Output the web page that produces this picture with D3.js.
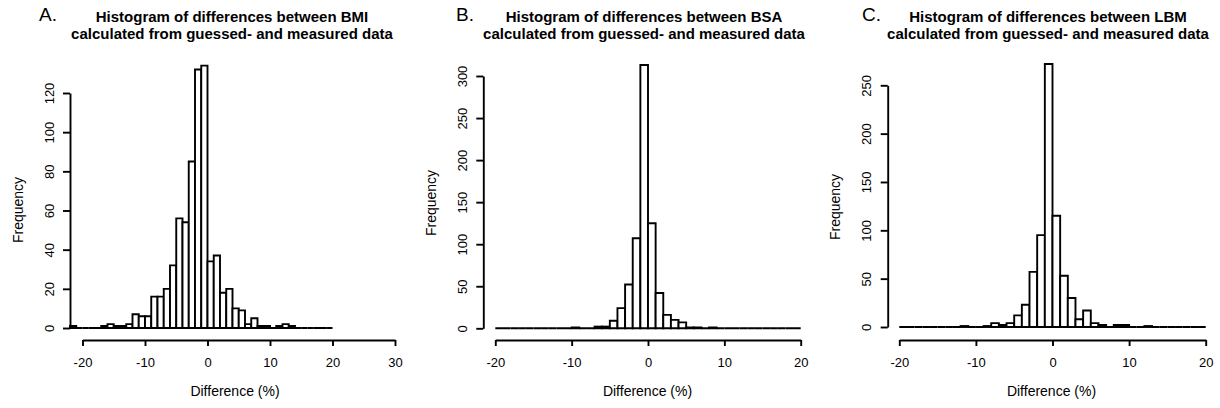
<!DOCTYPE html>
<html>
<head>
<meta charset="utf-8">
<script src="https://cdn.jsdelivr.net/npm/d3@7"></script>
<style>
  html, body { margin: 0; padding: 0; background: #fff; }
  svg { display: block; }
  text { font-family: "Liberation Sans", Arial, Helvetica, sans-serif; fill: #000; }
</style>
</head>
<body>
<svg id="chart" width="1220" height="408"></svg>
<script>
// ---- Data (bin width = 1 %) ----
const panelLetters = ["A.", "B.", "C."];
const titleLine1 = [
  "Histogram of differences between BMI",
  "Histogram of differences between BSA",
  "Histogram of differences between LBM"
];
const titleLine2 = "calculated from guessed- and measured data";
const xLabel = "Difference (%)";
const yLabel = "Frequency";

// First bin lower edge for each panel
const binStartA = -22;
const binStartB = -20;
const binStartC = -20;

// Counts per 1 % bin
const countsA = [1,0,0,0,0,1,2,1,1,2,7,6,6,16,16,20,32,56,54,85,132,134,34,37,18,20,10,9,2,5,1,1,0,1,2,1,0,0,0,0,0,0];
const countsB = [0,0,0,0,0,0,0,0,0,0,1,0,0,2,2,9,24,52,107,313,125,42,16,10,7,1,1,0,1,0,0,0,0,0,0,0,0,0,0,0];
const countsC = [0,0,0,0,0,0,0,0,1,0,0,1,4,2,4,12,23,57,95,272,115,53,30,8,17,4,2,0,2,2,0,0,1,0,0,0,0,0,0,0];

// Tick labels
const xTicksA = [-20,-10,0,10,20,30];
const xTicksB = [-20,-10,0,10,20];
const xTicksC = [-20,-10,0,10,20];
const yTicksA = [0,20,40,60,80,100,120];
const yTicksB = [0,50,100,150,200,250,300];
const yTicksC = [0,50,100,150,200,250];

// ---- Layout ----
const panels = [
  { counts: countsA, start: binStartA, xTicks: xTicksA, yTicks: yTicksA,
    xr: [82.5, 395], yr: [328, 93], yAxisX: 70, titleX: 232, letterX: 39, xLabX: 235, yLabX: 18, yLabY: 210 },
  { counts: countsB, start: binStartB, xTicks: xTicksB, yTicks: yTicksB,
    xr: [495.3, 800.7], yr: [328.3, 76], yAxisX: 483.3, titleX: 644, letterX: 456, xLabX: 647.5, yLabX: 431, yLabY: 203 },
  { counts: countsC, start: binStartC, xTicks: xTicksC, yTicks: yTicksC,
    xr: [899.3, 1205.7], yr: [327, 85.3], yAxisX: 887.7, titleX: 1048, letterX: 862, xLabX: 1051.5, yLabX: 835, yLabY: 207 }
];

const SW = 1.9;
const svg = d3.select("#chart");
svg.append("rect").attr("width", 1220).attr("height", 408).attr("fill", "#fff");

panels.forEach((p, i) => {
  const g = svg.append("g");
  const x = d3.scaleLinear()
    .domain([p.xTicks[0], p.xTicks[p.xTicks.length - 1]])
    .range(p.xr);
  const y = d3.scaleLinear()
    .domain([0, p.yTicks[p.yTicks.length - 1]])
    .range(p.yr);

  const bins = p.counts.map((c, k) => ({ x0: p.start + k, x1: p.start + k + 1, n: c }));

  // bars (drawn as closed outlines so that empty bins appear as a flat line)
  g.append("g").selectAll("path").data(bins).join("path")
    .attr("d", d => {
      const path = d3.path();
      path.moveTo(x(d.x0), y(0));
      path.lineTo(x(d.x0), y(d.n));
      path.lineTo(x(d.x1), y(d.n));
      path.lineTo(x(d.x1), y(0));
      path.closePath();
      return path.toString();
    })
    .attr("fill", "#fff")
    .attr("stroke", "#000")
    .attr("stroke-width", SW)
    .attr("stroke-linejoin", "miter");

  // x axis
  const xa = g.append("g")
    .attr("transform", `translate(0,340)`)
    .call(d3.axisBottom(x).tickValues(p.xTicks).tickSizeOuter(0).tickSizeInner(6).tickPadding(12).tickFormat(d3.format("d")));
  xa.select(".domain").attr("stroke-width", SW);
  xa.selectAll(".tick line").attr("stroke-width", SW);
  xa.selectAll("text").attr("font-size", 13).attr("font-family", "Liberation Sans, Arial, sans-serif")
    .text(d => String(d));

  // y axis
  const ya = g.append("g")
    .attr("transform", `translate(${p.yAxisX},0)`)
    .call(d3.axisLeft(y).tickValues(p.yTicks).tickSizeOuter(0).tickSizeInner(7).tickFormat(d3.format("d")));
  ya.select(".domain").attr("stroke-width", SW);
  ya.selectAll(".tick line").attr("stroke-width", SW);
  ya.selectAll("text")
    .attr("x", null).attr("dy", null)
    .attr("text-anchor", "middle")
    .attr("transform", "translate(-16.5,0) rotate(-90)")
    .attr("font-size", 13).attr("font-family", "Liberation Sans, Arial, sans-serif");

  // titles
  g.append("text").attr("x", p.titleX).attr("y", 21.7).attr("text-anchor", "middle")
    .attr("font-weight", "bold").attr("font-size", 15).text(titleLine1[i]);
  g.append("text").attr("x", p.titleX).attr("y", 39).attr("text-anchor", "middle")
    .attr("font-weight", "bold").attr("font-size", 15).text(titleLine2);
  g.append("text").attr("x", p.letterX).attr("y", 21).attr("font-size", 19).text(panelLetters[i]);

  // axis labels
  g.append("text").attr("x", p.xLabX).attr("y", 396).attr("text-anchor", "middle")
    .attr("font-size", 14).text(xLabel);
  g.append("text").attr("transform", `translate(${p.yLabX + 5},${p.yLabY}) rotate(-90)`)
    .attr("text-anchor", "middle").attr("font-size", 14).text(yLabel);
});
</script>
</body>
</html>
